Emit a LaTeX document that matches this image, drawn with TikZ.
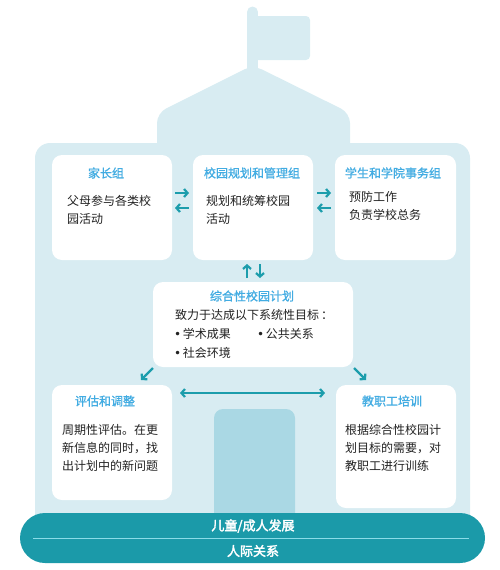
\documentclass[tikz,border=0pt]{standalone}
\usepackage{fontspec}
\setmainfont{Noto Sans CJK SC}[AutoFakeBold=2.5]
\newfontfamily\titlefont{Noto Sans CJK SC}[FakeBold=1.2]
\newfontfamily\latinfont{DejaVu Sans}
\usetikzlibrary{arrows.meta}
\definecolor{housebg}{HTML}{D8ECF2}
\definecolor{doorc}{HTML}{AAD8E4}
\definecolor{bandc}{HTML}{1B9AA9}
\definecolor{divc}{HTML}{8ADCE8}
\definecolor{arrc}{HTML}{1C9DAC}
\definecolor{titlec}{HTML}{42ACE2}
\definecolor{bodyc}{HTML}{222222}
\newcommand{\bul}{{\latinfont •}\kern1.5pt}
\tikzset{
  box/.style={fill=white, rounded corners=10pt, inner sep=0pt},
  boxtitle/.style={text=titlec, font=\titlefont\fontsize{12}{14}\selectfont, inner sep=0pt},
  boxbody/.style={text=bodyc, font=\fontsize{12}{18}\selectfont, align=left, anchor=north west, inner sep=0pt},
  bandtext/.style={text=white, font=\fontsize{13}{15}\selectfont\bfseries, inner sep=0pt},
  arr/.style={draw=arrc, line width=2.2pt, -{Straight Barb[length=3.5pt,width=8pt]}},
  darr/.style={draw=arrc, line width=2.2pt, {Straight Barb[length=3.5pt,width=8pt]}-{Straight Barb[length=3.5pt,width=8pt]}}
}
\begin{document}
\begin{tikzpicture}[x=1pt,y=-1pt]
\useasboundingbox (0,0) rectangle (500,570);
% house silhouette
\fill[housebg, rounded corners=15pt] (35,143) rectangle (470,540);
\fill[housebg, rounded corners=10pt] (157,170) -- (157,113) -- (253,65) -- (350,113) -- (350,170) -- cycle;
\draw[housebg, line width=11pt, line cap=round] (252.5,12) -- (252.5,72);
\fill[housebg, rounded corners=4pt] (254,16) rectangle (310,60);
% door
\fill[doorc, rounded corners=9pt] (214,409) rectangle (295,530);
% base band
\fill[bandc, rounded corners=25pt] (20,513) rectangle (485,563);
\draw[divc, line width=1pt] (33,538) -- (469,538);
\node[bandtext] (dev) at (253,526) {儿童/成人发展};
\node[bandtext] (rel) at (253,551) {人际关系};
% boxes
\node[box, minimum width=120pt, minimum height=105pt] (b1) at (112,207.5) {};
\node[box, minimum width=120pt, minimum height=105pt] (b2) at (253,207.5) {};
\node[box, minimum width=121pt, minimum height=105pt] (b3) at (395.5,207.5) {};
\node[box, minimum width=200pt, minimum height=85pt] (bc) at (253,324.5) {};
\node[box, minimum width=120pt, minimum height=115pt] (b4) at (112,442.5) {};
\node[box, minimum width=120pt, minimum height=123pt] (b5) at (396,446.5) {};
% titles
\node[boxtitle] (t1) at (106,173) {家长组};
\node[boxtitle] (t2) at (252,173) {校园规划和管理组};
\node[boxtitle] (t3) at (393,173) {学生和学院事务组};
\node[boxtitle] (tc) at (252,296) {综合性校园计划};
\node[boxtitle] (t4) at (105,401) {评估和调整};
\node[boxtitle] (t5) at (392,401) {教职工培训};
% bodies
\node[boxbody] (x1) at (67,195) {父母参与各类校\\园活动};
\node[boxbody] (x2) at (206,195) {规划和统筹校园\\活动};
\node[boxbody] (x3) at (349,191) {预防工作\\负责学校总务};
\node[boxbody] (xc) at (175,309) {致力于达成以下系统性目标\kern2pt：};
\node[boxbody] (xc1) at (174,328) {\bul 学术成果};
\node[boxbody] (xc2) at (257,328) {\bul 公共关系};
\node[boxbody] (xc3) at (174,347) {\bul 社会环境};
\node[boxbody] (x4) at (62,424) {周期性评估。在更\\新信息的同时，找\\出计划中的新问题};
\node[boxbody] (x5) at (345,424) {根据综合性校园计\\划目标的需要，对\\教职工进行训练};
% arrow end points
\coordinate (a12s) at (175,193); \coordinate (a12e) at (189,193);
\coordinate (a21s) at (189,208); \coordinate (a21e) at (175,208);
\coordinate (a23s) at (317,193); \coordinate (a23e) at (331,193);
\coordinate (a32s) at (331,208); \coordinate (a32e) at (317,208);
\coordinate (aus) at (247,278); \coordinate (aue) at (247,264);
\coordinate (ads) at (260,264); \coordinate (ade) at (260,278);
\coordinate (als) at (153,368); \coordinate (ale) at (141,380);
\coordinate (ars) at (354,368); \coordinate (are) at (366,380);
\coordinate (hl) at (180,393); \coordinate (hr) at (325,393);
\draw[arr] (a12s) -- (a12e);
\draw[arr] (a21s) -- (a21e);
\draw[arr] (a23s) -- (a23e);
\draw[arr] (a32s) -- (a32e);
\draw[arr] (aus) -- (aue);
\draw[arr] (ads) -- (ade);
\draw[arr] (als) -- (ale);
\draw[arr] (ars) -- (are);
\draw[darr] (hl) -- (hr);
\end{tikzpicture}
\end{document}
